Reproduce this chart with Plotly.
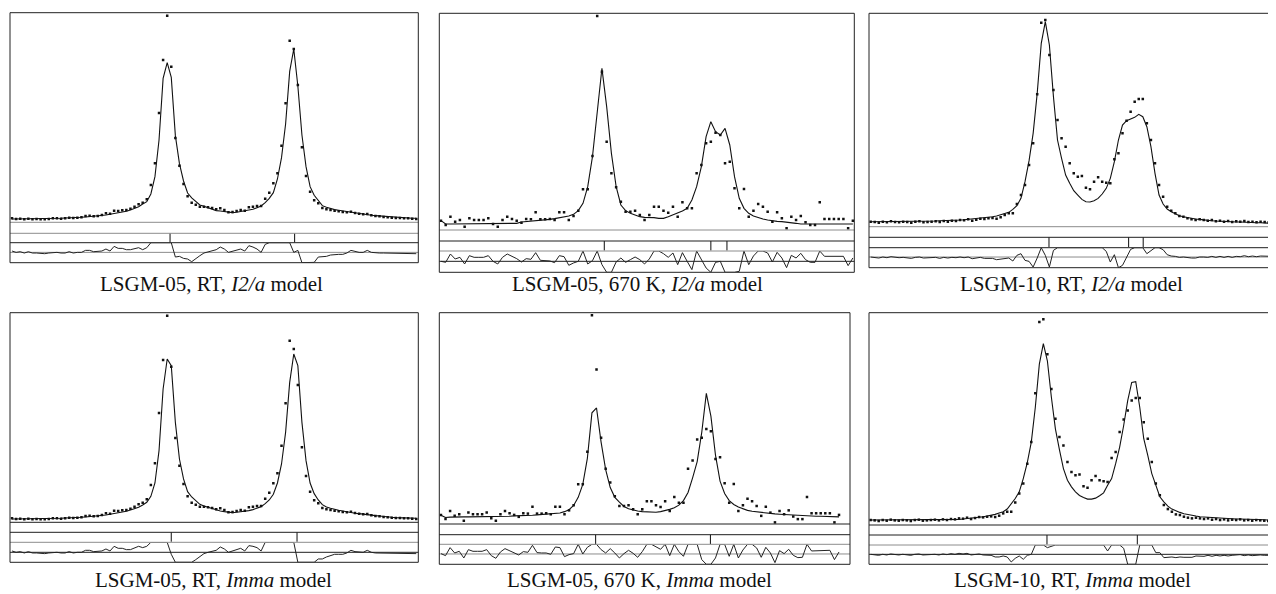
import numpy as np
import plotly.graph_objects as go

# The page body has an 8 px default margin: the figure is sized to fit the
# 1276x594 window and all pixel positions are given in window coordinates.
WIN_W, WIN_H, OFF = 1276, 594, 8
W, H = WIN_W - OFF, WIN_H - OFF

# ---------------- data (counts vs. step number) ----------------
lsgm05_rt_obs = [12, 10, 11, 9, 11, 9, 10, 9, 9, 10,
                 12, 12, 11, 12, 14, 13, 14, 15, 19, 20,
                 18, 19, 22, 27, 26, 35, 34, 36, 37, 41,
                 47, 54, 59, 69, 112, 177, 328, 487, 620, 467,
                 253, 170, 115, 78, 59, 53, 47, 47, 45, 43,
                 39, 42, 37, 30, 31, 34, 37, 35, 45, 47,
                 49, 49, 71, 89, 117, 147, 230, 357, 545, 520,
                 412, 225, 139, 92, 66, 57, 43, 39, 37, 35,
                 33, 31, 30, 32, 28, 26, 24, 25, 21, 19,
                 18, 16, 15, 14, 13, 13, 12, 12, 11, 10]
lsgm05_rt_calc_i2a = [10, 10, 10, 10, 10, 10, 11, 11, 11, 11,
                      12, 12, 12, 13, 13, 14, 14, 15, 16, 17,
                      17, 18, 20, 22, 24, 26, 28, 30, 33, 37,
                      41, 47, 55, 62, 85, 137, 247, 432, 479, 435,
                      260, 176, 124, 88, 73, 62, 52, 48, 44, 40,
                      35, 34, 32, 30, 29, 30, 32, 33, 35, 39,
                      44, 49, 59, 72, 89, 130, 194, 295, 453, 520,
                      409, 262, 167, 107, 81, 64, 50, 45, 41, 38,
                      36, 34, 31, 29, 27, 26, 24, 22, 21, 20,
                      19, 17, 16, 15, 14, 14, 13, 13, 12, 12]
lsgm05_rt_calc_imma = [10, 10, 10, 10, 10, 10, 11, 11, 11, 11,
                       12, 12, 12, 13, 13, 14, 14, 15, 16, 17,
                       17, 18, 20, 22, 24, 26, 28, 30, 33, 37,
                       40, 45, 52, 60, 78, 118, 215, 400, 490, 470,
                       300, 190, 130, 92, 76, 64, 54, 49, 45, 41,
                       36, 34, 32, 30, 29, 30, 31, 33, 35, 38,
                       42, 47, 56, 67, 84, 118, 175, 270, 420, 505,
                       470, 300, 185, 118, 86, 67, 53, 46, 42, 38,
                       36, 34, 31, 29, 27, 26, 24, 22, 21, 20,
                       19, 17, 16, 15, 14, 14, 13, 13, 12, 12]

lsgm05_670k_obs = [28, 15, 40, 25, 30, 10, 35, 30, 30, 30,
                   35, 18, 10, 30, 40, 33, 28, 22, 33, 32,
                   53, 32, 32, 33, 30, 53, 53, 30, 42, 58,
                   122, 122, 222, 642, 475, 265, 170, 128, 85, 55,
                   55, 58, 45, 30, 45, 70, 70, 58, 52, 70,
                   40, 83, 65, 65, 170, 195, 260, 265, 292, 285,
                   200, 205, 125, 65, 123, 40, 58, 78, 70, 55,
                   25, 53, 35, 5, 40, 30, 42, 23, 15, 15,
                   83, 33, 33, 33, 33, 33, 5, 28]
lsgm05_670k_calc_i2a = [28, 18, 18, 18, 18, 18, 18, 18, 18, 18,
                        18, 18, 18, 18, 18, 18, 20, 24, 25, 26,
                        27, 29, 30, 32, 34, 36, 39, 42, 47, 58,
                        80, 130, 220, 360, 485, 370, 230, 130, 75, 58,
                        50, 45, 40, 38, 38, 37, 35, 35, 40, 45,
                        50, 57, 65, 90, 130, 190, 280, 325, 295, 285,
                        305, 255, 160, 95, 65, 50, 42, 37, 33, 30,
                        27, 26, 25, 24, 22, 20, 18, 18, 18, 18,
                        18, 18, 18, 18, 18, 18, 18, 18]
lsgm05_670k_calc_imma = [27, 20, 21, 22, 22, 22, 22, 22, 22, 22,
                         22, 23, 23, 24, 24, 24, 25, 25, 26, 27,
                         27, 28, 29, 30, 31, 32, 34, 38, 44, 57,
                         82, 122, 202, 342, 357, 252, 167, 112, 82, 67,
                         54, 47, 43, 40, 38, 37, 36, 36, 38, 41,
                         45, 50, 58, 72, 97, 142, 192, 282, 402, 332,
                         212, 132, 94, 72, 60, 52, 46, 42, 39, 37,
                         35, 33, 32, 31, 30, 29, 28, 27, 26, 25,
                         24, 24, 24, 24, 24, 22, 22, 22]

lsgm10_rt_obs = [15, 14, 12, 15, 13, 16, 14, 13, 15, 14,
                 12, 15, 16, 13, 14, 15, 16, 14, 17, 15,
                 18, 17, 20, 19, 22, 18, 21, 24, 23, 25,
                 26, 24, 28, 35, 40, 40, 68, 95, 125, 185,
                 250, 397, 612, 620, 515, 410, 320, 265, 240, 190,
                 160, 150, 152, 117, 112, 135, 148, 135, 132, 130,
                 202, 220, 280, 318, 345, 375, 383, 383, 310, 260,
                 190, 125, 90, 60, 48, 40, 32, 30, 25, 22,
                 20, 22, 20, 18, 20, 16, 18, 15, 17, 14,
                 16, 15, 17, 14, 15, 13, 15, 14, 13, 12]
lsgm10_rt_calc_i2a = [15, 15, 15, 15, 15, 15, 15, 15, 16, 16,
                      16, 16, 16, 16, 17, 17, 17, 18, 18, 18,
                      19, 19, 20, 21, 22, 23, 24, 25, 27, 28,
                      30, 32, 35, 40, 43, 52, 63, 85, 135, 198,
                      280, 400, 550, 615, 545, 390, 260, 205, 155, 130,
                      108, 95, 82, 75, 74, 78, 85, 98, 115, 145,
                      195, 260, 305, 318, 322, 328, 337, 330, 300, 240,
                      160, 95, 68, 53, 45, 38, 33, 30, 27, 25,
                      23, 22, 20, 19, 18, 17, 16, 16, 15, 15,
                      14, 14, 13, 13, 12, 12, 12, 11, 11, 10]
lsgm10_rt_calc_imma = [15, 15, 15, 15, 15, 15, 15, 15, 15, 15,
                       15, 15, 15, 15, 15, 16, 16, 16, 16, 16,
                       16, 17, 17, 18, 19, 20, 22, 23, 25, 27,
                       29, 32, 36, 40, 48, 63, 80, 100, 140, 188,
                       250, 355, 485, 547, 495, 385, 290, 227, 170, 135,
                       115, 100, 89, 83, 78, 78, 81, 88, 97, 120,
                       140, 185, 235, 300, 375, 430, 432, 355, 260, 210,
                       155, 120, 85, 70, 57, 48, 42, 38, 34, 31,
                       29, 27, 25, 24, 23, 22, 21, 20, 20, 19,
                       19, 18, 18, 18, 17, 17, 17, 16, 16, 15]

# reflection positions (step number)
refl_05_rt_i2a = [38.7, 69.2]
refl_05_rt_imma = [39.0, 69.8]
refl_05_670_i2a = [34.5, 57.0, 60.4]
refl_05_670_imma = [33.8, 58.9]
refl_10_rt_i2a = [43.9, 63.5, 67.1]
refl_10_rt_imma = [43.9, 66.4]

titles = ["LSGM-05, RT, <i>I2/a</i> model",
          "LSGM-05, 670 K, <i>I2/a</i> model",
          "LSGM-10, RT, <i>I2/a</i> model",
          "LSGM-05, RT, <i>Imma</i> model",
          "LSGM-05, 670 K, <i>Imma</i> model",
          "LSGM-10, RT, <i>Imma</i> model"]

# ---------------- layout of the six panels (window pixels) ----------------
G = "#8c8c8c"
K = "#1e1e1e"
panels = [
    dict(obs=lsgm05_rt_obs, calc=lsgm05_rt_calc_i2a, refl=refl_05_rt_i2a, title=titles[0],
         box=(10, 418.3, 12.7, 262.7), bands=(222.3, 233.3, 242.7), bcol=(G, G, K, G),
         xr=(-0.5, 99.5), yr=(0, 629), dr=(-15.5, 14.5), lab=(211, 284)),
    dict(obs=lsgm05_670k_obs, calc=lsgm05_670k_calc_i2a, refl=refl_05_670_i2a, title=titles[1],
         box=(439.3, 854.3, 13.3, 272.3), bands=(230, 241, 251), bcol=(G, K, G, K),
         xr=(-0.35, 87.3), yr=(0, 650), dr=(-33, 31), lab=(637, 284)),
    dict(obs=lsgm10_rt_obs, calc=lsgm10_rt_calc_i2a, refl=refl_10_rt_i2a, title=titles[2],
         box=(869, 1275.5, 13.3, 267.7), bands=(226.7, 237.3, 247.7), bcol=(G, K, K, G),
         xr=(-0.41, 99.67), yr=(0, 640), dr=(-32, 28), lab=(1071, 284)),
    dict(obs=lsgm05_rt_obs, calc=lsgm05_rt_calc_imma, refl=refl_05_rt_imma, title=titles[3],
         box=(10, 418.3, 312.7, 562.3), bands=(522.3, 532.3, 542.3), bcol=(K, K, G, K),
         xr=(-0.5, 99.5), yr=(0, 629), dr=(-15, 15), lab=(213, 580)),
    dict(obs=lsgm05_670k_obs, calc=lsgm05_670k_calc_imma, refl=refl_05_670_imma, title=titles[4],
         box=(439.3, 850, 312.7, 564.3), bands=(524, 534.7, 544.3), bcol=(K, K, G, G),
         xr=(-0.36, 89.4), yr=(0, 650), dr=(-31, 29), lab=(639, 580)),
    dict(obs=lsgm10_rt_obs, calc=lsgm10_rt_calc_imma, refl=refl_10_rt_imma, title=titles[5],
         box=(869, 1275.5, 312.7, 564.3), bands=(525, 535, 545), bcol=(K, K, G, K),
         xr=(-0.41, 100.8), yr=(0, 640), dr=(-30, 28), lab=(1072, 580)),
]


def PX(x):
    return (x - OFF) / W


def PY(y):
    return 1 - (y - OFF) / H


def ax_name(k):
    return "" if k == 1 else str(k)


fig = go.Figure()
shapes, annotations, axes = [], [], {}

for p, c in enumerate(panels):
    x0, x1, top, bottom = c["box"]
    mb, tt, tb = c["bands"]
    obs = np.array(c["obs"], dtype=float)
    calc = np.array(c["calc"], dtype=float)
    steps = np.arange(len(obs))
    lo, hi = c["dr"]
    diff = np.clip(obs - calc, lo, hi)

    ks = [3 * p + 1, 3 * p + 2, 3 * p + 3]
    doms = [(mb, top), (tb, tt), (bottom, tb)]
    ranges = [c["yr"], (0, 1), c["dr"]]
    for j, k in enumerate(ks):
        s = ax_name(k)
        axes["xaxis" + s] = dict(domain=[PX(x0), min(PX(x1), 1.0)], range=list(c["xr"]),
                                 visible=False, anchor="y" + s, fixedrange=True)
        axes["yaxis" + s] = dict(domain=[PY(doms[j][0]), PY(doms[j][1])],
                                 range=list(ranges[j]), visible=False, anchor="x" + s,
                                 fixedrange=True)

    sm, st, sd = (ax_name(k) for k in ks)
    fig.add_trace(go.Scatter(x=steps, y=calc, mode="lines",
                             line=dict(color="#111", width=1.1),
                             xaxis="x" + sm, yaxis="y" + sm))
    fig.add_trace(go.Scatter(x=steps, y=obs, mode="markers",
                             marker=dict(symbol="square", size=2.5, color="#111"),
                             xaxis="x" + sm, yaxis="y" + sm))
    fig.add_trace(go.Scatter(x=c["refl"], y=[0.55] * len(c["refl"]), mode="markers",
                             marker=dict(symbol="line-ns", size=7,
                                         line=dict(width=1.1, color="#222")),
                             xaxis="x" + st, yaxis="y" + st))
    fig.add_trace(go.Scatter(x=steps, y=diff, mode="lines",
                             line=dict(color="#222", width=1),
                             xaxis="x" + sd, yaxis="y" + sd))

    # frame and separating lines
    for ypx, col in zip((mb, tt, tb), c["bcol"][:3]):
        shapes.append(dict(type="line", xref="paper", yref="paper",
                           x0=PX(x0), x1=min(PX(x1), 1.0), y0=PY(ypx), y1=PY(ypx),
                           line=dict(color=col, width=1)))
    shapes.append(dict(type="line", xref="paper", yref="y" + sd,
                       x0=PX(x0), x1=min(PX(x1), 1.0), y0=0, y1=0,
                       line=dict(color=c["bcol"][3], width=1), layer="below"))
    shapes.append(dict(type="rect", xref="paper", yref="paper",
                       x0=PX(x0), x1=min(PX(x1), 1.0), y0=PY(bottom), y1=PY(top),
                       line=dict(color="#222", width=1)))
    annotations.append(dict(text=c["title"], x=PX(c["lab"][0]), y=PY(c["lab"][1]),
                            xref="paper", yref="paper", showarrow=False,
                            xanchor="center", yanchor="middle", borderpad=0,
                            font=dict(family="Liberation Serif, Times New Roman, serif",
                                      size=21, color="#111")))

fig.update_layout(width=W, height=H, autosize=False,
                  margin=dict(l=0, r=0, t=0, b=0),
                  paper_bgcolor="white", plot_bgcolor="white",
                  showlegend=False, shapes=shapes, annotations=annotations, **axes)

fig.write_html("out.html", config={"displayModeBar": False})
